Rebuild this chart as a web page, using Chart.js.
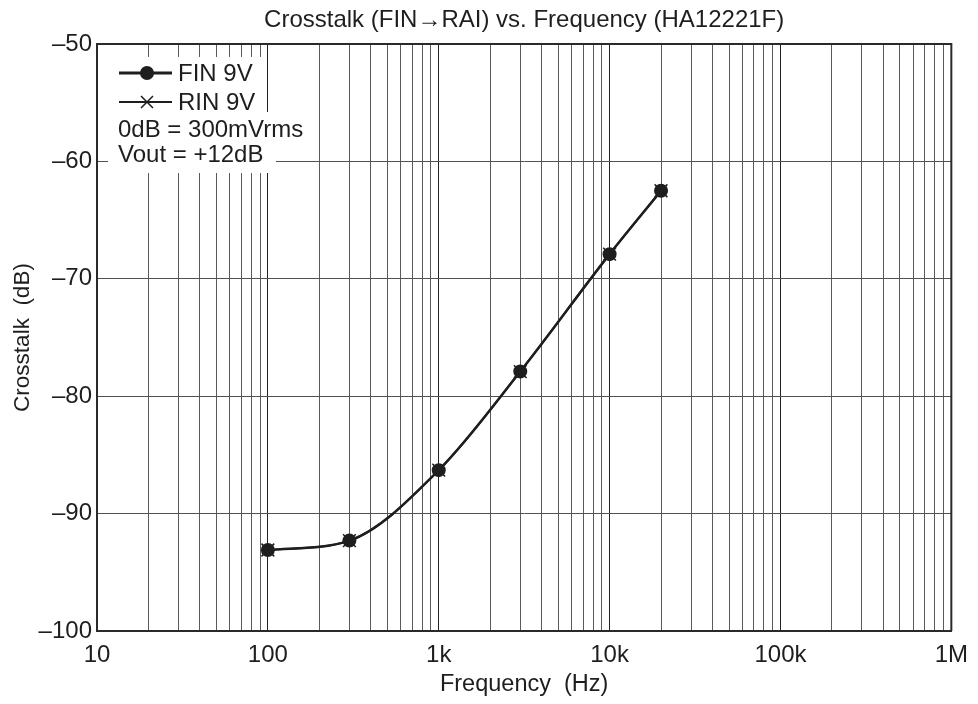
<!DOCTYPE html>
<html>
<head>
<meta charset="utf-8">
<script src="https://cdn.jsdelivr.net/npm/chart.js@4/dist/chart.umd.min.js"></script>
<style>
  html, body { margin: 0; padding: 0; background: #ffffff; }
  #wrap { width: 978px; height: 704px; position: relative; }
</style>
</head>
<body>
<div id="wrap"><canvas id="c" width="978" height="704"></canvas></div>
<script>
// ---- data ----
const frequencies = [100, 300, 1000, 3000, 10000, 20000];
const finValues   = [-93.1, -92.3, -86.3, -77.9, -67.9, -62.5];
const rinValues   = [-93.1, -92.3, -86.3, -77.9, -67.9, -62.5];
const decadeValues = [10, 100, 1000, 10000, 100000, 1000000];
const decadeLabels = ['10', '100', '1k', '10k', '100k', '1M'];
const yTickValues  = [-100, -90, -80, -70, -60, -50];
const titleText  = 'Crosstalk (FIN\u2192RAI) vs. Frequency (HA12221F)';
const xTitleText = 'Frequency  (Hz)';
const yTitleText = 'Crosstalk  (dB)';
const legendLines = ['FIN 9V', 'RIN 9V', '0dB = 300mVrms', 'Vout = +12dB'];

const FONT = '"Liberation Sans", Arial, Helvetica, sans-serif';
const INK = '#1e1e1e';

// grid positions for the log axis (1..9 per decade)
const xGridValues = [];
for (let i = 0; i < decadeValues.length - 1; i++) {
  for (let m = 1; m <= 9; m++) xGridValues.push(decadeValues[i] * m);
}
xGridValues.push(decadeValues[decadeValues.length - 1]);

function isDecade(v) {
  return decadeValues.some(d => Math.abs(d - v) / d < 1e-9);
}

const decorPlugin = {
  id: 'decor',
  beforeDatasetsDraw(chart) {
    const ctx = chart.ctx;
    ctx.save();
    ctx.fillStyle = '#ffffff';
    // white legend backdrop
    ctx.fillRect(110, 57, 157, 116);
    ctx.fillRect(108, 112, 168, 61);
    ctx.restore();
  },
  afterDraw(chart) {
    const ctx = chart.ctx;
    const a = chart.chartArea;
    ctx.save();
    // frame (top & right)
    ctx.strokeStyle = '#2a2a2a';
    ctx.lineWidth = 2;
    ctx.beginPath();
    ctx.moveTo(a.left, a.top);
    ctx.lineTo(a.right, a.top);
    ctx.lineTo(a.right, a.bottom);
    ctx.stroke();

    // title
    ctx.fillStyle = INK;
    ctx.font = '24px ' + FONT;
    ctx.textAlign = 'center';
    ctx.textBaseline = 'middle';
    ctx.fillText(titleText, (a.left + a.right) / 2, 20);

    // legend
    ctx.strokeStyle = INK;
    ctx.lineWidth = 3;
    // FIN
    ctx.beginPath(); ctx.moveTo(119, 73); ctx.lineTo(172, 73); ctx.stroke();
    ctx.beginPath(); ctx.arc(147, 73, 7, 0, Math.PI * 2); ctx.fillStyle = INK; ctx.fill();
    // RIN
    ctx.lineWidth = 2;
    ctx.beginPath(); ctx.moveTo(119, 102); ctx.lineTo(172, 102); ctx.stroke();
    ctx.lineWidth = 1.5;
    ctx.beginPath();
    ctx.moveTo(141, 96); ctx.lineTo(153, 108);
    ctx.moveTo(153, 96); ctx.lineTo(141, 108);
    ctx.stroke();

    ctx.font = '24px ' + FONT;
    ctx.textAlign = 'left';
    ctx.textBaseline = 'middle';
    ctx.fillStyle = INK;
    ctx.fillText(legendLines[0], 178, 74);
    ctx.fillText(legendLines[1], 178, 103);
    ctx.fillText(legendLines[2], 118, 130);
    ctx.fillText(legendLines[3], 118, 155);
    ctx.restore();
  }
};

const finData = frequencies.map((f, i) => ({ x: f, y: finValues[i] }));
const rinData = frequencies.map((f, i) => ({ x: f, y: rinValues[i] }));

new Chart(document.getElementById('c'), {
  type: 'line',
  data: {
    datasets: [
      {
        label: 'FIN 9V',
        data: finData,
        borderColor: INK,
        backgroundColor: INK,
        borderWidth: 2.5,
        pointStyle: 'circle',
        pointRadius: 7,
        pointBackgroundColor: INK,
        pointBorderColor: INK,
        pointBorderWidth: 0,
        cubicInterpolationMode: 'monotone',
        fill: false,
        order: 1
      },
      {
        label: 'RIN 9V',
        data: rinData,
        borderColor: INK,
        backgroundColor: INK,
        borderWidth: 2,
        pointStyle: 'crossRot',
        pointRadius: 9,
        pointBorderColor: INK,
        pointBorderWidth: 1.5,
        cubicInterpolationMode: 'monotone',
        fill: false,
        order: 2
      }
    ]
  },
  plugins: [decorPlugin],
  options: {
    responsive: false,
    animation: false,
    devicePixelRatio: 1,
    layout: { padding: { top: 44, right: 21, left: 0, bottom: 0 } },
    plugins: {
      legend: { display: false },
      title: { display: false },
      tooltip: { enabled: false }
    },
    scales: {
      x: {
        type: 'logarithmic',
        min: 10,
        max: 1000000,
        afterFit(s) { s.height = 73; },
        afterBuildTicks(s) { s.ticks = xGridValues.map(v => ({ value: v, major: isDecade(v) })); },
        ticks: {
          autoSkip: false,
          maxRotation: 0,
          minRotation: 0,
          padding: 10,
          color: INK,
          font: { family: FONT, size: 24 },
          callback(value) {
            const idx = decadeValues.findIndex(d => Math.abs(d - value) / d < 1e-9);
            return idx >= 0 ? decadeLabels[idx] : '';
          }
        },
        grid: {
          drawTicks: false,
          lineWidth: 1,
          color(ctx) {
            const v = ctx.tick ? ctx.tick.value : 0;
            return isDecade(v) ? '#222222' : '#5a5a5a';
          }
        },
        border: { color: '#2a2a2a', width: 2 },
        title: {
          display: true,
          text: xTitleText,
          color: INK,
          font: { family: FONT, size: 23.5 },
          padding: { top: 0, bottom: 5 }
        }
      },
      y: {
        type: 'linear',
        min: -100,
        max: -50,
        afterFit(s) { s.width = 97; },
        afterBuildTicks(s) { s.ticks = yTickValues.map(v => ({ value: v })); },
        ticks: {
          padding: 5,
          color: INK,
          font: { family: FONT, size: 24 },
          callback(value) { return value < 0 ? '\u2013' + Math.abs(value) : String(value); }
        },
        grid: {
          drawTicks: false,
          lineWidth: 1,
          color: '#505050'
        },
        border: { color: '#2a2a2a', width: 2 },
        title: {
          display: true,
          text: yTitleText,
          color: INK,
          font: { family: FONT, size: 22.5 },
          padding: { top: 9, bottom: 0 }
        }
      }
    }
  }
});
</script>
</body>
</html>
